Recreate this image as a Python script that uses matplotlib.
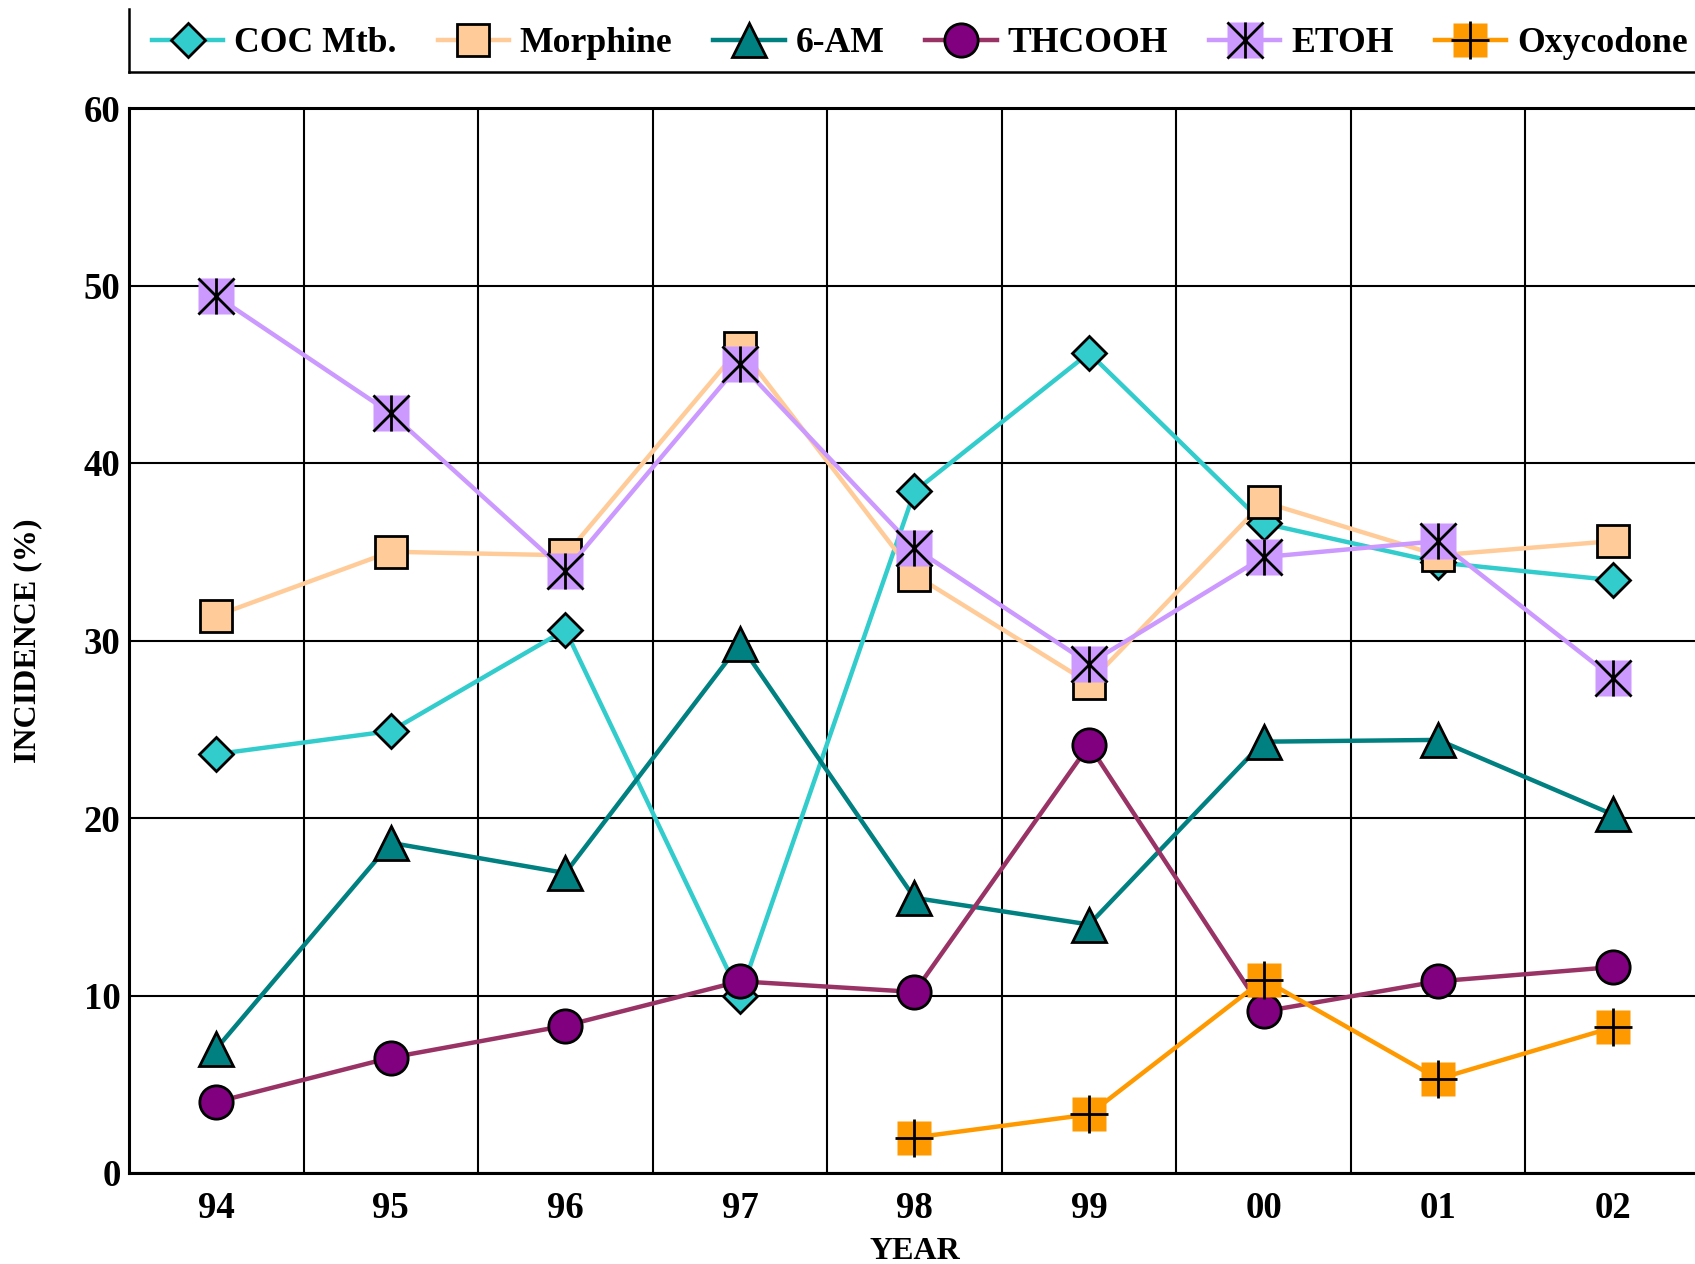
import matplotlib
matplotlib.use('Agg')
import matplotlib.pyplot as plt
from matplotlib.path import Path
from matplotlib.lines import Line2D

plt.rcParams['font.family'] = ['Liberation Serif', 'DejaVu Serif']
plt.rcParams['font.weight'] = 'bold'

years = ['94', '95', '96', '97', '98', '99', '00', '01', '02']
coc = [23.6, 24.9, 30.6, 10.0, 38.4, 46.2, 36.6, 34.4, 33.4]
morphine = [31.4, 35.0, 34.8, 46.5, 33.7, 27.6, 37.8, 34.8, 35.6]
am6 = [7.0, 18.6, 16.9, 29.8, 15.5, 14.0, 24.3, 24.4, 20.2]
thcooh = [4.0, 6.5, 8.3, 10.8, 10.2, 24.1, 9.1, 10.8, 11.6]
etoh = [49.4, 42.8, 33.9, 45.6, 35.2, 28.7, 34.7, 35.6, 27.9]
oxy_years = ['98', '99', '00', '01', '02']
oxycodone = [2.0, 3.3, 10.9, 5.3, 8.2]

x = list(range(len(years)))
xo = [years.index(y) for y in oxy_years]

fig = plt.figure(figsize=(16.95, 12.64), dpi=100)
ax = fig.add_axes([129 / 1695, 91 / 1264, 1571 / 1695, 1065 / 1264])

lw = 3.2
l1, = ax.plot(x, coc, color='#33CCCC', lw=lw, marker='D', ms=17,
              mfc='#33CCCC', mec='black', mew=2, zorder=3)
l2, = ax.plot(x, morphine, color='#FFCC99', lw=lw, marker='s', ms=23,
              mfc='#FFCC99', mec='black', mew=2, zorder=3)
l3, = ax.plot(x, am6, color='#008080', lw=lw, marker='^', ms=25,
              mfc='#008080', mec='black', mew=2, zorder=3)
l4, = ax.plot(x, thcooh, color='#993366', lw=lw, marker='o', ms=24,
              mfc='#800080', mec='black', mew=2, zorder=3)

star = Path([(-1, -1), (1, 1), (-1, 1), (1, -1), (0, -1), (0, 1)],
            [Path.MOVETO, Path.LINETO, Path.MOVETO, Path.LINETO, Path.MOVETO, Path.LINETO])
l5, = ax.plot(x, etoh, color='#CC99FF', lw=lw, marker='s', ms=26,
              mfc='#CC99FF', mec='none', zorder=3)
s5, = ax.plot(x, etoh, ls='none', marker=star, ms=26, mec='black', mew=2, zorder=3.1)
l6, = ax.plot(xo, oxycodone, color='#FF9900', lw=lw, marker='s', ms=25,
              mfc='#FF9900', mec='none', zorder=3)
s6, = ax.plot(xo, oxycodone, ls='none', marker='+', ms=28, mec='black', mew=2, zorder=3.1)

ax.set_xlim(-0.5, 8.5)
ax.set_ylim(0, 60)
ax.set_xticks(x)
ax.set_xticklabels(years)
ax.set_xticks([i + 0.5 for i in range(8)], minor=True)
ax.set_yticks(range(0, 61, 10))
ax.tick_params(which='both', length=0)
ax.tick_params(axis='y', labelsize=26.5, pad=6)
ax.tick_params(axis='x', labelsize=26.5, pad=13)
ax.grid(which='minor', axis='x', color='black', lw=1.5)
ax.grid(which='major', axis='y', color='black', lw=1.5)
ax.grid(which='major', axis='x', visible=False)
for s in ax.spines.values():
    s.set_linewidth(2.2)

ax.set_xlabel('YEAR', fontsize=23, fontweight='bold', labelpad=8)
ax.set_ylabel('INCIDENCE (%)', fontsize=23, fontweight='bold', labelpad=30)

leg = fig.legend([l1, l2, l3, l4, (l5, s5), (l6, s6)],
                 ['COC Mtb.', 'Morphine', '6-AM', 'THCOOH', 'ETOH', 'Oxycodone'],
                 loc='center left', bbox_to_anchor=(152 / 1695, 1 - 44 / 1264),
                 ncol=6, frameon=False, fontsize=25.7, handlelength=2.0,
                 handletextpad=0.3, columnspacing=1.15, borderpad=0,
                 borderaxespad=0, numpoints=1)

# legend box: only left and bottom edges are inside the picture
fig.add_artist(Line2D([129 / 1695, 129 / 1695], [1 - 9 / 1264, 1 - 72 / 1264],
                      color='black', lw=1.8))
fig.add_artist(Line2D([129 / 1695, 1.0], [1 - 72 / 1264, 1 - 72 / 1264],
                      color='black', lw=1.8))

fig.savefig('out.png', dpi=100)
